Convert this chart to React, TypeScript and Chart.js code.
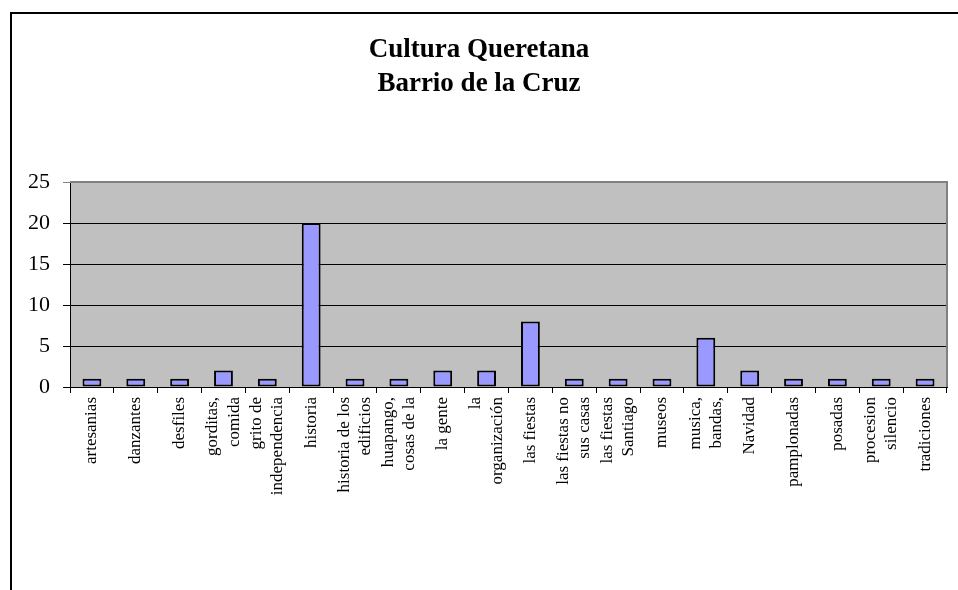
import React, { useEffect, useRef } from "react";
import { Chart, registerables } from "chart.js";

Chart.register(...registerables);

const titleLines = ["Cultura Queretana", "Barrio de la Cruz"];

const categories: (string | string[])[] = [
  "artesanias",
  "danzantes",
  "desfiles",
  ["gorditas,", "comida"],
  ["grito de", "independencia"],
  "historia",
  ["historia de los", "edificios"],
  ["huapango,", "cosas de la"],
  "la gente",
  ["la", "organización"],
  "las fiestas",
  ["las fiestas no", "sus casas"],
  ["las fiestas", "Santiago"],
  "museos",
  ["musica,", "bandas,"],
  "Navidad",
  "pamplonadas",
  "posadas",
  ["procesion", "silencio"],
  "tradiciones",
];

const counts = [1, 1, 1, 2, 1, 20, 1, 1, 2, 2, 8, 1, 1, 1, 6, 2, 1, 1, 1, 1];

const yTicks = [0, 5, 10, 15, 20, 25];

const FONT = "'Liberation Serif', 'DejaVu Serif', serif";

const decorPlugin = {
  id: "decor",
  beforeDraw(chart: any) {
    const { ctx, chartArea } = chart;
    // center multi-line rotated category labels on their ticks
    const xs = chart.scales.x;
    const items = xs.getLabelItems(chartArea);
    items.forEach((it: any) => {
      if (Array.isArray(it.label) && !it._centered) {
        const lh = it.font.lineHeight;
        it.textOffset -= ((it.label.length - 1) * lh) / 2;
        it._centered = true;
      }
    });
    ctx.save();
    // outer frame (top & left)
    ctx.strokeStyle = "#000";
    ctx.lineWidth = 2;
    ctx.beginPath();
    ctx.moveTo(11, 600);
    ctx.lineTo(11, 13);
    ctx.lineTo(960, 13);
    ctx.stroke();
    // plot background
    ctx.fillStyle = "#C0C0C0";
    ctx.fillRect(chartArea.left, chartArea.top, chartArea.right - chartArea.left, chartArea.bottom - chartArea.top);
    ctx.restore();
  },
  afterDatasetsDraw(chart: any) {
    const { ctx, chartArea } = chart;
    ctx.save();
    ctx.strokeStyle = "#808080";
    ctx.lineWidth = 2;
    ctx.beginPath();
    ctx.moveTo(chartArea.left, chartArea.top);
    ctx.lineTo(chartArea.right, chartArea.top);
    ctx.lineTo(chartArea.right, chartArea.bottom);
    ctx.stroke();
    ctx.restore();
  },
};

export default function App() {
  const ref = useRef<HTMLCanvasElement>(null);
  useEffect(() => {
    const chart = new Chart(ref.current!, {
      type: "bar",
      data: {
        labels: categories,
        datasets: [
          {
            data: counts,
            backgroundColor: "#9999FF",
            borderColor: "#000000",
            borderWidth: 2,
            borderSkipped: false,
            categoryPercentage: 1,
            barPercentage: 0.43,
          },
        ],
      },
      options: {
        animation: false,
        responsive: false,
        maintainAspectRatio: false,
        layout: { padding: { left: 11, right: 11, top: 0, bottom: 0 } },
        plugins: {
          legend: { display: false },
          tooltip: { enabled: false },
          title: {
            display: true,
            text: titleLines,
            color: "#000",
            font: { family: FONT, size: 27, weight: "bold", lineHeight: 1.26 },
            padding: { top: 33, bottom: 81 },
          },
        },
        scales: {
          x: {
            grid: {
              drawOnChartArea: false,
              drawTicks: true,
              tickLength: 6,
              color: "#000",
              offset: true,
            },
            border: { color: "#000", width: 1 },
            ticks: {
              color: "#000",
              font: { family: FONT, size: 17, lineHeight: 1.25 },
              minRotation: 90,
              maxRotation: 90,
              autoSkip: false,
              padding: 4,
            },
            afterFit(scale: any) {
              scale.height = 203;
            },
          },
          y: {
            min: 0,
            max: 25,
            afterBuildTicks(scale: any) {
              scale.ticks = yTicks.map((v) => ({ value: v }));
            },
            grid: {
              color: (c: any) => (c.tick && c.tick.value === 25 ? "#808080" : "#000"),
              lineWidth: 1,
              drawTicks: true,
              tickLength: 7,
            },
            border: { color: "#000", width: 1 },
            ticks: {
              color: "#000",
              font: { family: FONT, size: 22 },
              padding: 13,
            },
            afterFit(scale: any) {
              scale.width = 59;
            },
          },
        },
      },
      plugins: [decorPlugin],
    });
    return () => chart.destroy();
  }, []);
  return (
    <div style={{ position: "fixed", left: 0, top: 0, width: 958, height: 590, background: "#fff" }}>
      <canvas ref={ref} width={958} height={590} style={{ display: "block" }} />
    </div>
  );
}
